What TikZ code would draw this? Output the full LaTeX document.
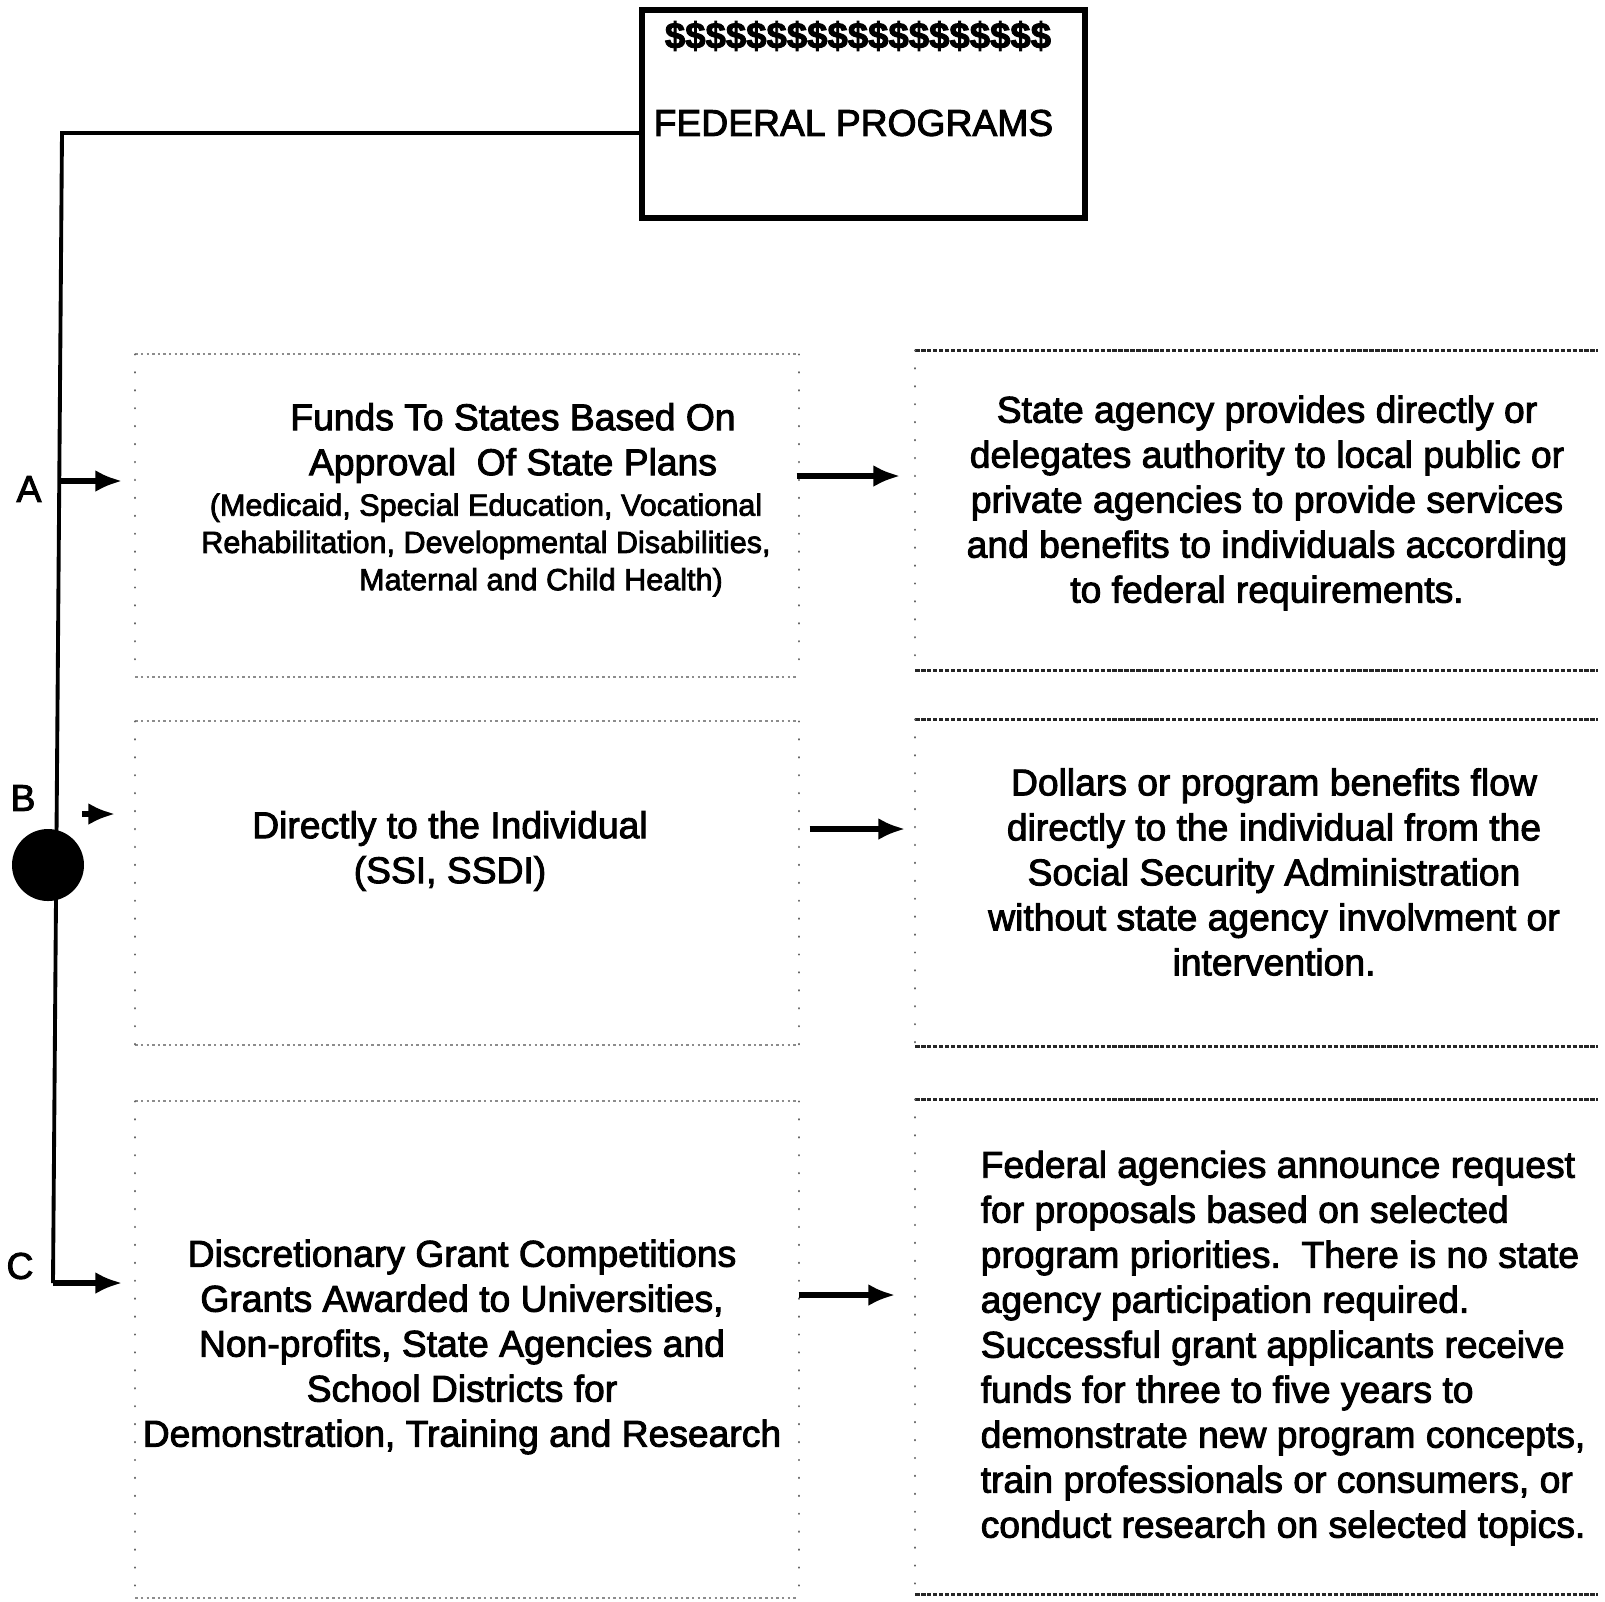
\documentclass[tikz,border=0pt]{standalone}
\usepackage{fontspec}
\setmainfont{Liberation Sans}
\newfontfamily\scanfont{Liberation Sans}[FakeBold=2.5]
\usetikzlibrary{arrows.meta}

\begin{document}
\begin{tikzpicture}[
		txt/.style={font=\scanfont\fontsize{10.6}{12.8}\selectfont, align=center, inner sep=0pt},
		small/.style={font=\scanfont\fontsize{8.7}{10.6}\selectfont, align=center, inner sep=0pt},
		cell/.style={inner sep=0pt, minimum width=6.62cm},
		faintrim/.style={draw=black!45, line width=0.6pt, dash pattern=on 0.7pt off 0.9pt},
		darkrim/.style={draw=black!85, line width=1pt, dash pattern=on 1.2pt off 0.5pt},
		siderim/.style={draw=black!60, line width=0.6pt, line cap=round, dash pattern=on 0.1pt off 5pt},
		branch/.style={-{Latex[length=2.7mm,width=2.2mm]}, line width=1.5pt},
		trunk/.style={line width=1.1pt}
	]
	\useasboundingbox (0,0) rectangle (16.05,-16.01);
	\def\dollars{\$\$\$\$\$\$\$\$\$\$\$\$\$\$\$\$\$\$\$}

	% the program box on top
	\node[draw, line width=1.5pt, minimum width=4.43cm, minimum height=2.08cm] (fed) at (8.635,-1.14) {};
	\node[inner sep=0pt, font=\scanfont\fontsize{10.4}{12}\selectfont\bfseries] (dollarline) at (8.58,-0.36) {\dollars};
	\node[txt, anchor=west] (fedtitle) at (6.53,-1.23) {FEDERAL PROGRAMS};

	% the three routes
	\node[cell, minimum height=3.21cm] (lA) at (4.67,-5.155) {};
	\node[cell, minimum height=3.22cm] (lB) at (4.67,-8.83) {};
	\node[cell, minimum height=4.95cm] (lC) at (4.67,-13.495) {};
	\node[cell, minimum width=6.81cm, minimum height=3.19cm] (rA) at (12.565,-5.105) {};
	\node[cell, minimum width=6.81cm, minimum height=3.26cm] (rB) at (12.565,-8.83) {};
	\node[cell, minimum width=6.81cm, minimum height=4.94cm] (rC) at (12.565,-13.47) {};

	\foreach \b in {lA,lB,lC} {
		\draw[faintrim] (\b.north west) -- (\b.north east);
		\draw[faintrim] (\b.south west) -- (\b.south east);
		\draw[siderim] (\b.north west) -- (\b.south west);
		\draw[siderim] (\b.north east) -- (\b.south east);
	}
	\foreach \b in {rA,rB,rC} {
		\draw[darkrim] (\b.north west) -- (\b.north east);
		\draw[darkrim] (\b.south west) -- (\b.south east);
		\draw[siderim] (\b.north west) -- (\b.south west);
	}

	\node[txt] (fundshead) at (5.13,-4.43) {Funds To States Based On\\Approval\ \ Of State Plans};
	\node[small] (fundslist) at (4.86,-5.45) {(Medicaid, Special Education, Vocational\\Rehabilitation, Developmental Disabilities,\\\hspace*{1.1cm}Maternal and Child Health)};
	\node[txt] (direct) at (4.50,-8.51) {Directly to the Individual\\(SSI, SSDI)};
	\node[txt] (grants) at (4.62,-13.47) {Discretionary Grant Competitions\\Grants Awarded to Universities,\\Non-profits, State Agencies and\\School Districts for\\Demonstration, Training and Research};

	\node[txt] (stateagency) at (12.67,-5.03) {State agency provides directly or\\delegates authority to local public or\\private agencies to provide services\\and benefits to individuals according\\to federal requirements.};
	\node[txt] (ssa) at (12.74,-8.72) {Dollars or program benefits flow\\directly to the individual from the\\Social Security Administration\\without state agency involvment or\\intervention.};
	\node[txt, align=left, anchor=west] (rfp) at (9.80,-13.48) {Federal agencies announce request\\for proposals based on selected\\program priorities.\ \ There is no state\\agency participation required.\\Successful grant applicants receive\\funds for three to five years to\\demonstrate new program concepts,\\train professionals or consumers, or\\conduct research on selected topics.};

	% trunk with its branches
	\coordinate (trunktop) at (0.62,-1.33);
	\coordinate (trunkbot) at (0.53,-12.83);
	\coordinate (ta) at (0.60,-4.81);
	\coordinate (tb) at (0.82,-8.14);
	\draw[trunk] (fed.west |- trunktop) -- (trunktop) -- (trunkbot);
	\node[circle, fill=black, minimum size=0.72cm, inner sep=0pt] (hub) at (0.48,-8.65) {};

	\node[txt] (labA) at (0.29,-4.89) {A};
	\node[txt] (labB) at (0.23,-7.98) {B};
	\node[txt] (labC) at (0.20,-12.66) {C};

	\begin{scope}[branch]
		\draw[shorten >=0.13cm] (ta) -- (ta -| lA.west);
		\draw[shorten >=0.2cm] (tb) -- (tb -| lB.west);
		\draw[shorten >=0.13cm] (trunkbot) -- (trunkbot -| lC.west);
	\end{scope}

	\coordinate (mA) at ([shift={(-0.02,0.395)}]lA.east);
	\coordinate (mB) at ([shift={(0.11,0.54)}]lB.east);
	\coordinate (mC) at ([shift={(0,0.545)}]lC.east);
	\begin{scope}[branch]
		\draw[shorten >=0.15cm] (mA) -- (mA -| rA.west);
		\draw[shorten >=0.10cm] (mB) -- (mB -| rB.west);
		\draw[shorten >=0.20cm] (mC) -- (mC -| rC.west);
	\end{scope}
\end{tikzpicture}
\end{document}
